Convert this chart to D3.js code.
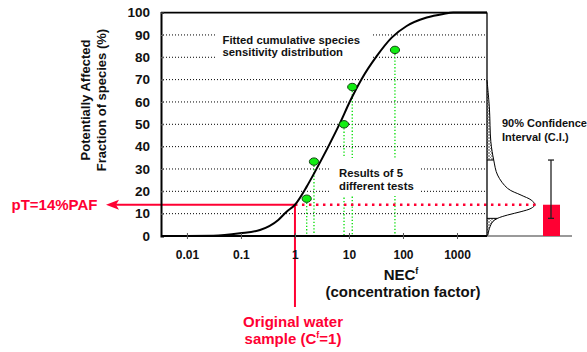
<!DOCTYPE html>
<html><head><meta charset="utf-8">
<script src="https://cdn.jsdelivr.net/npm/d3@7"></script>
<style>
html,body{margin:0;padding:0;background:#fff;}
svg{display:block;font-family:"Liberation Sans",Arial,Helvetica,sans-serif;font-weight:bold;}
</style></head>
<body>
<script>
// ---- data ----
const xTicks = [0.01, 0.1, 1, 10, 100, 1000];
const xTickLabels = ["0.01", "0.1", "1", "10", "100", "1000"];
const yTicks = [0, 10, 20, 30, 40, 50, 60, 70, 80, 90, 100];
// fitted cumulative SSD curve (NEC concentration factor, PAF %)
const curveNEC = [0.0033, 0.01, 0.0307, 0.0957, 0.225, 0.491, 0.70, 1.0, 1.65, 2.34, 4.14, 6.81, 10.4, 17.2, 32.6, 61.8, 117, 275, 557, 850, 3600];
const curvePAF = [0, 0.02, 0.1, 1.2, 2.7, 7.2, 10.9, 14.0, 22.1, 28.7, 40.0, 50.5, 60.2, 70.3, 80.5, 88.8, 94.0, 97.8, 99.4, 100, 100];
// results of 5 different tests
const testNEC = [1.65, 2.25, 8.1, 11.5, 71];
const testPAF = [16.7, 33.3, 50.0, 66.7, 83.3];
// PAF uncertainty distribution (PAF %, relative density)
const distPAF = [69.8, 57.3, 42.2, 34.0, 27.3, 21.3, 18.3, 16.1, 14.0, 12.4, 10.9, 9.4, 7.9, 6.4, 3.4, 0.4, 0];
const distDens = [0, 0.05, 0.08, 0.14, 0.22, 0.43, 0.71, 0.92, 1.0, 0.92, 0.71, 0.43, 0.22, 0.12, 0.05, 0.015, 0];
const pT = 14;
const ciLow = 7.9, ciHigh = 34;
const sampleCf = 1;

const RED = "#ff0033";
const W = 587, H = 352;
const svg = d3.select("body").append("svg").attr("width", W).attr("height", H);

const defs = svg.append("defs");
const pat = defs.append("pattern").attr("id", "hatch").attr("patternUnits", "userSpaceOnUse")
  .attr("width", 3).attr("height", 3);
pat.append("rect").attr("width", 3).attr("height", 3).attr("fill", "#fff");
pat.append("path").attr("d", "M0,3 L3,0 M0,0 L3,3").attr("stroke", "#666").attr("stroke-width", 0.6);

const x = d3.scaleLog().domain([0.00331, 3594]).range([161, 487]);
const y = d3.scaleLinear().domain([0, 100]).range([236, 12.6]);
const dx = d3.scaleLinear().domain([0, 1]).range([487, 535]);

// gridlines
svg.append("g").selectAll("line").data(yTicks.filter(v => v > 0 && v < 100)).join("line")
  .attr("x1", 163).attr("x2", 487).attr("y1", d => y(d)).attr("y2", d => y(d))
  .attr("stroke", "#000").attr("stroke-width", 1).attr("stroke-dasharray", "1,2");

// green dotted drop lines
svg.append("g").selectAll("line").data(testNEC.map((n, i) => [n, testPAF[i]])).join("line")
  .attr("x1", d => x(d[0])).attr("x2", d => x(d[0]))
  .attr("y1", d => y(d[1]) + 4).attr("y2", y(0))
  .attr("stroke", "#00dd00").attr("stroke-width", 1.3).attr("stroke-dasharray", "1.3,2");

// white text boxes
svg.append("rect").attr("x", 215).attr("y", 28).attr("width", 156).attr("height", 34).attr("fill", "#fff");
svg.append("rect").attr("x", 330).attr("y", 158).attr("width", 90).attr("height", 38).attr("fill", "#fff");

const t1 = svg.append("text").attr("font-size", 11.3).attr("fill", "#111");
t1.append("tspan").attr("x", 222.5).attr("y", 43.5).text("Fitted cumulative species");
t1.append("tspan").attr("x", 222.5).attr("y", 56).text("sensitivity distribution");
const t2 = svg.append("text").attr("font-size", 11.3).attr("fill", "#111");
t2.append("tspan").attr("x", 339).attr("y", 177).text("Results of 5");
t2.append("tspan").attr("x", 339).attr("y", 189.5).text("different tests");

// distribution on the right
const distData = distPAF.map((p, i) => ({p, w: distDens[i]}));
const areaGen = d3.area().y(d => y(d.p)).x0(487).x1(d => dx(d.w)).curve(d3.curveCatmullRom.alpha(0.5));
svg.append("path").datum(distData.filter(d => d.p >= ciHigh)).attr("d", areaGen).attr("fill", "url(#hatch)");
svg.append("path").datum(distData.filter(d => d.p <= ciLow)).attr("d", areaGen).attr("fill", "url(#hatch)");
const wAt = p => distData.find(d => d.p === p).w;
svg.append("line").attr("x1", 487).attr("x2", dx(wAt(ciHigh))).attr("y1", y(ciHigh)).attr("y2", y(ciHigh)).attr("stroke", "#000").attr("stroke-width", 1);
svg.append("line").attr("x1", 487).attr("x2", dx(wAt(ciLow))).attr("y1", y(ciLow)).attr("y2", y(ciLow)).attr("stroke", "#000").attr("stroke-width", 1);
svg.append("path").datum(distData)
  .attr("d", d3.line().y(d => y(d.p)).x(d => dx(d.w)).curve(d3.curveCatmullRom.alpha(0.5)))
  .attr("fill", "none").attr("stroke", "#000").attr("stroke-width", 1);

// baseline extension (gray)
svg.append("line").attr("x1", 487).attr("x2", 572).attr("y1", y(0)).attr("y2", y(0)).attr("stroke", "#999").attr("stroke-width", 2);

// CI bar
svg.append("rect").attr("x", 543).attr("width", 17).attr("y", y(pT)).attr("height", y(0) - y(pT)).attr("fill", RED);
const ebx = 551;
svg.append("line").attr("x1", ebx).attr("x2", ebx).attr("y1", y(ciHigh)).attr("y2", y(ciLow)).attr("stroke", "#222").attr("stroke-width", 1.3);
[ciHigh, ciLow].forEach(v => svg.append("line").attr("x1", ebx - 3).attr("x2", ebx + 3).attr("y1", y(v)).attr("y2", y(v)).attr("stroke", "#222").attr("stroke-width", 1.3));

// red lines
svg.append("line").attr("x1", x(sampleCf)).attr("x2", 537).attr("y1", y(pT)).attr("y2", y(pT))
  .attr("stroke", RED).attr("stroke-width", 2.5).attr("stroke-dasharray", "2.5,4.5");
svg.append("line").attr("x1", 116).attr("x2", x(sampleCf) + 1).attr("y1", y(pT)).attr("y2", y(pT))
  .attr("stroke", RED).attr("stroke-width", 2);
svg.append("path").attr("d", `M106,${y(pT)} L119,${y(pT) - 5} L116,${y(pT)} L119,${y(pT) + 5} Z`).attr("fill", RED);
svg.append("line").attr("x1", x(sampleCf)).attr("x2", x(sampleCf)).attr("y1", y(pT)).attr("y2", 307)
  .attr("stroke", RED).attr("stroke-width", 2);

// SSD curve
svg.append("path").datum(curveNEC.map((n, i) => [n, curvePAF[i]]))
  .attr("d", d3.line().x(d => x(d[0])).y(d => y(d[1])).curve(d3.curveMonotoneX))
  .attr("fill", "none").attr("stroke", "#000").attr("stroke-width", 2);

// test points
svg.append("g").selectAll("ellipse").data(testNEC.map((n, i) => [n, testPAF[i]])).join("ellipse")
  .attr("cx", d => x(d[0])).attr("cy", d => y(d[1])).attr("rx", 4.6).attr("ry", 3.7)
  .attr("fill", "#11ee11").attr("stroke", "#114411").attr("stroke-width", 1);

// frame / axes
svg.append("line").attr("x1", 161).attr("x2", 487).attr("y1", y(100)).attr("y2", y(100)).attr("stroke", "#000").attr("stroke-width", 1.8);
svg.append("line").attr("x1", 487).attr("x2", 487).attr("y1", y(100)).attr("y2", y(0)).attr("stroke", "#000").attr("stroke-width", 1.3);
const yAxis = svg.append("g").attr("transform", "translate(161,0)")
  .call(d3.axisLeft(y).tickValues(yTicks).tickSize(-3).tickPadding(11).tickFormat(d3.format("d")));
yAxis.select(".domain").attr("stroke-width", 2);
yAxis.selectAll(".tick line").attr("stroke", "#666");
yAxis.selectAll("text").attr("font-size", 13.5).attr("font-family", "Liberation Sans, Arial, sans-serif").attr("font-weight", "bold").attr("fill", "#111");
const xAxis = svg.append("g").attr("transform", `translate(0,${y(0)})`)
  .call(d3.axisBottom(x).tickValues(xTicks).tickSize(3).tickPadding(11).tickFormat((d, i) => xTickLabels[i]));
xAxis.select(".domain").attr("stroke-width", 2).attr("d", "M161,0H487");
xAxis.selectAll(".tick line").attr("y1", -3).attr("stroke", "#555");
xAxis.selectAll("text").attr("font-size", 12).attr("font-family", "Liberation Sans, Arial, sans-serif").attr("font-weight", "bold").attr("fill", "#111");

// axis titles
const yt = svg.append("text").attr("font-size", 13).attr("fill", "#111").attr("text-anchor", "middle")
  .attr("transform", "translate(0,100) rotate(-90)");
yt.append("tspan").attr("x", 0).attr("y", 89.5).text("Potentially Affected");
yt.append("tspan").attr("x", 0).attr("y", 106).text("Fraction of species (%)");

const nec = svg.append("text").attr("font-size", 15).attr("fill", "#111").attr("text-anchor", "middle").attr("x", 401).attr("y", 280);
nec.append("tspan").text("NEC");
nec.append("tspan").attr("font-size", 9).attr("dy", -6).text("f");
svg.append("text").attr("font-size", 15).attr("fill", "#111").attr("text-anchor", "middle").attr("x", 403).attr("y", 297).text("(concentration factor)");

svg.append("text").attr("font-size", 15).attr("fill", RED).attr("x", 11.5).attr("y", 209.5).text("pT=14%PAF");

const ow = svg.append("text").attr("font-size", 15).attr("fill", RED).attr("text-anchor", "middle");
ow.append("tspan").attr("x", 293).attr("y", 327).text("Original water");
const l2 = ow.append("tspan").attr("x", 293).attr("y", 343.5);
l2.append("tspan").text("sample (C");
l2.append("tspan").attr("font-size", 9).attr("dy", -6).text("f");
l2.append("tspan").attr("dy", 6).text("=1)");

const ci = svg.append("text").attr("font-size", 11).attr("fill", "#111");
ci.append("tspan").attr("x", 502).attr("y", 127).text("90% Confidence");
ci.append("tspan").attr("x", 502).attr("y", 140.5).text("Interval (C.I.)");
</script>
</body></html>
